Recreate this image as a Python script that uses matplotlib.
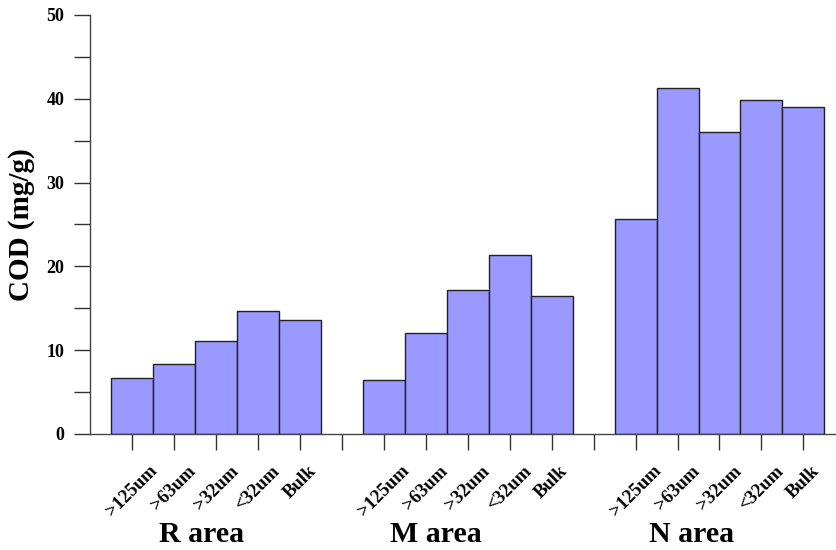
import numpy as np
import matplotlib
matplotlib.use("Agg")
import matplotlib.pyplot as plt

sizes = [">125um", ">63um", ">32um", "<32um", "Bulk"]
areas = ["R area", "M area", "N area"]
r_cod = [6.7, 8.4, 11.1, 14.7, 13.6]
m_cod = [6.5, 12.0, 17.2, 21.4, 16.5]
n_cod = [25.6, 41.3, 36.0, 39.8, 39.0]
# slot positions of each group along the x axis (one empty slot between groups)
r_pos = [1, 2, 3, 4, 5]
m_pos = [7, 8, 9, 10, 11]
n_pos = [13, 14, 15, 16, 17]
area_label_x = [2.65, 8.24, 14.33]

plt.rcParams["font.family"] = ["Liberation Serif", "DejaVu Serif"]
plt.rcParams["font.weight"] = "bold"

fig = plt.figure(figsize=(8.37, 5.5), dpi=100)
ax = fig.add_axes([90 / 837, 1 - 434 / 550, 1 - 90 / 837, 419 / 550])

for pos, vals in [(r_pos, r_cod), (m_pos, m_cod), (n_pos, n_cod)]:
    ax.bar(pos, vals, width=1.0, color="#9999ff", edgecolor="#222222", linewidth=1.0)

ax.set_xlim(0, 17.8)
ax.set_ylim(0, 50)

ticks = list(range(1, 18))
labels = []
for t in ticks:
    if t % 6 == 0:
        labels.append("")
    else:
        labels.append(sizes[(t % 6) - 1])
ax.set_xticks(ticks)
ax.set_xticklabels(labels, rotation=45, ha="center", fontsize=13.5, fontweight="bold")

ax.set_yticks(np.arange(0, 51, 10))
ax.set_yticks(np.arange(5, 50, 10), minor=True)
ax.tick_params(axis="y", which="both", direction="out", length=11.5, width=1.0,
               labelsize=13, pad=7, color="#333333")
ax.tick_params(axis="x", direction="out", length=11.5, width=1.0, pad=9, color="#333333")
for lbl in ax.get_yticklabels():
    lbl.set_fontweight("bold")

for s in ["top", "right"]:
    ax.spines[s].set_visible(False)
for s in ["left", "bottom"]:
    ax.spines[s].set_color("#444444")
    ax.spines[s].set_linewidth(1.0)

ax.set_ylabel("COD (mg/g)", fontsize=21, fontweight="bold", labelpad=8)

for xl, name in zip(area_label_x, areas):
    ax.text(xl, -12.0, name, ha="center", va="center", fontsize=21.5, fontweight="bold",
            transform=ax.transData, clip_on=False)

fig.savefig("out.png", dpi=100)
